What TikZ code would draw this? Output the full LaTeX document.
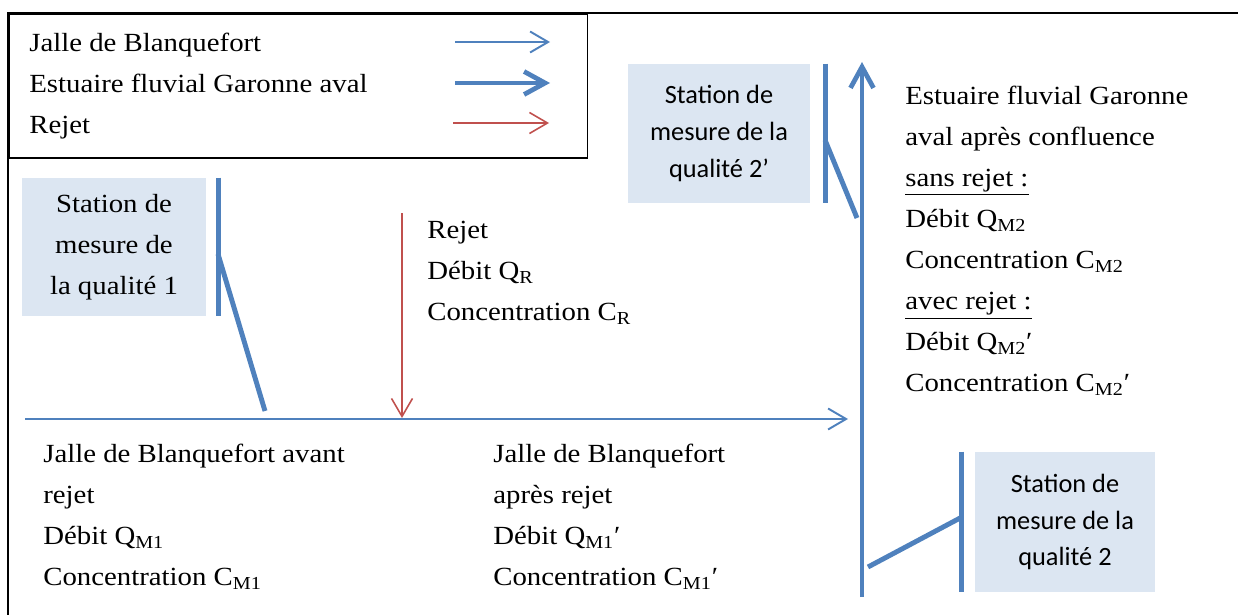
\documentclass[tikz,border=0pt]{standalone}
\usepackage{fontspec}
\setmainfont{Liberation Serif}[FakeStretch=1.1]
\newfontfamily\stationfont{Carlito}
\usetikzlibrary{arrows.meta}

\definecolor{riverblue}{RGB}{79,129,189}
\definecolor{rejetred}{RGB}{192,80,77}
\definecolor{stationfill}{RGB}{220,230,242}
\newcommand{\serifsize}{\fontsize{14.9}{23.34}\selectfont}
\newcommand{\sanssize}{\stationfont\fontsize{15}{21}\selectfont}

\begin{document}
\begin{tikzpicture}[x=0.02cm, y=-0.02cm, font=\serifsize,
    jalle/.style={draw=riverblue, line width=1.1pt, -{Straight Barb[length=0.36cm, width=0.42cm]}},
    garonne/.style={draw=riverblue, line width=2.7pt, -{Straight Barb[length=0.42cm, width=0.46cm]}},
    rejet/.style={draw=rejetred, line width=0.9pt, -{Straight Barb[length=0.36cm, width=0.42cm]}},
    station/.style={fill=stationfill, align=center, inner sep=0pt},
    stationbar/.style={draw=riverblue, line width=2.8pt},
    infotext/.style={anchor=north west, align=left, inner sep=0pt}]

\useasboundingbox (0,0) rectangle (1238,615);
\draw[line width=0.9pt] (8,615) -- (8,13) -- (1238,13);

% legende
\node[draw, line width=0.9pt, minimum width=11.58cm, minimum height=2.88cm, anchor=north west, inner sep=0pt] (legend) at (8,13) {};
\node[infotext] (legtext) at (29,33) {Jalle de Blanquefort\\Estuaire fluvial Garonne aval\\Rejet};
\coordinate (lj0) at (455,42);  \coordinate (lj1) at (550,42);
\coordinate (lg0) at (455,83);  \coordinate (lg1) at (550,83);
\coordinate (lr0) at (453,123); \coordinate (lr1) at (549,123);
\draw[jalle] (lj0) -- (lj1);
\draw[garonne] (lg0) -- (lg1);
\draw[rejet] (lr0) -- (lr1);

% stations de mesure
\node[station, font=\serifsize, minimum width=3.68cm, minimum height=2.76cm] (st1) at (114,247) {Station de\\mesure de\\la qualité 1};
\node[station, font=\sanssize, minimum width=3.64cm, minimum height=2.78cm] (st2p) at (719,133.5) {Station de\\mesure de la\\qualité 2’};
\node[station, font=\sanssize, minimum width=3.6cm, minimum height=2.8cm] (st2) at (1065,522) {Station de\\mesure de la\\qualité 2};

\draw[stationbar] ([xshift=0.24cm]st1.north east) -- ([xshift=0.24cm]st1.south east);
\draw[stationbar] ([xshift=0.3cm]st2p.north east) -- ([xshift=0.3cm]st2p.south east);
\draw[stationbar] ([xshift=-0.26cm]st2.north west) -- ([xshift=-0.26cm]st2.south west);

\coordinate (s1a) at (218,254);  \coordinate (s1b) at (265,411);
\coordinate (s2pa) at (825,140); \coordinate (s2pb) at (857,218);
\coordinate (s2a) at (962,517);  \coordinate (s2b) at (868,567);
\draw[stationbar] (s1a) -- (s1b);
\draw[stationbar] (s2pa) -- (s2pb);
\draw[stationbar] (s2a) -- (s2b);

% cours d'eau et rejet
\coordinate (jalleA) at (25,419); \coordinate (jalleB) at (848,419);
\coordinate (rejetA) at (402,213); \coordinate (rejetB) at (402,418);
\coordinate (estA) at (862,597); \coordinate (estB) at (862,62);
\draw[jalle] (jalleA) -- (jalleB);
\draw[rejet] (rejetA) -- (rejetB);
\draw[garonne] (estA) -- (estB);

% textes
\node[infotext] (rejettext) at (427,221) {Rejet\\Débit Q\textsubscript{R}\\Concentration C\textsubscript{R}};
\node[infotext] (avaltext) at (905,86) {Estuaire fluvial Garonne\\aval après confluence\\\underline{sans rejet :}\\Débit Q\textsubscript{M2}\\Concentration C\textsubscript{M2}\\\underline{avec rejet :}\\Débit Q\textsubscript{M2}′\\Concentration C\textsubscript{M2}′};
\node[infotext] (avanttext) at (43,444) {Jalle de Blanquefort avant\\rejet\\Débit Q\textsubscript{M1}\\Concentration C\textsubscript{M1}};
\node[infotext] (aprestext) at (493,444) {Jalle de Blanquefort\\après rejet\\Débit Q\textsubscript{M1}′\\Concentration C\textsubscript{M1}′};
\end{tikzpicture}
\end{document}
